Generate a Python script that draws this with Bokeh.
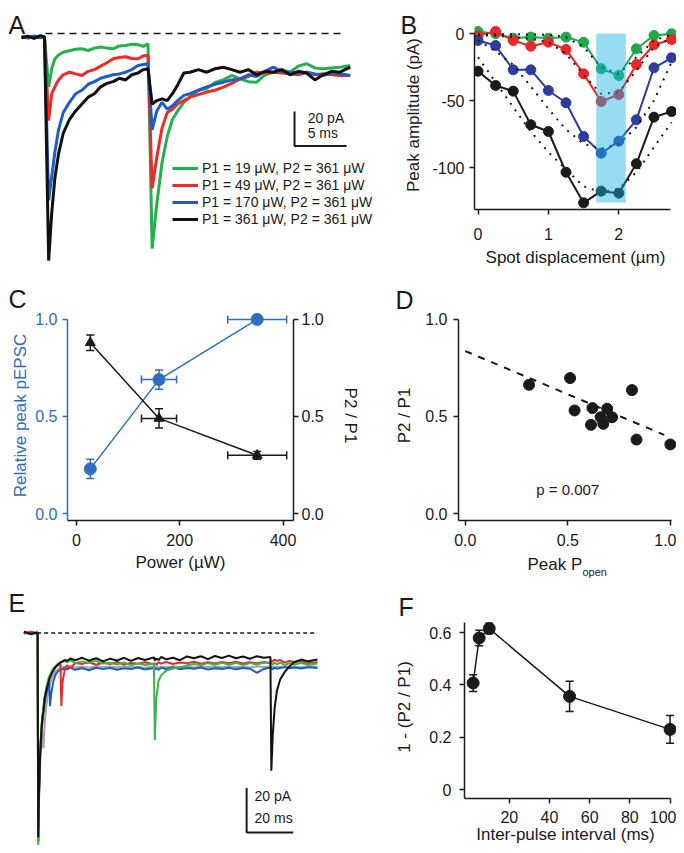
from bokeh.plotting import figure
from bokeh.models import (Range1d, LinearAxis, FixedTicker, Label, Legend, LegendItem,
                          Whisker, TeeHead, ColumnDataSource, CustomJSTickFormatter)
from bokeh.embed import file_html
from bokeh.resources import INLINE

FONT = "Liberation Sans"
INK = "#1a1a1a"

# ---------------- Panel A data (time in ms, current in pA) ----------------
tA = [-2.2, -1.6, -1.0, -0.4, 0.0, 0.4, 0.7, 1.0, 1.35, 1.8, 2.4, 3.0, 3.6, 4.2, 4.8, 5.4,
      6.0, 6.6, 7.2, 7.8, 8.4, 9.0, 9.5, 9.95, 10.35, 10.8, 11.3, 11.8, 12.3, 12.8, 13.4,
      14.0, 14.8, 15.6, 16.4, 17.2, 18.0, 18.8, 19.6, 20.4, 21.2, 22.0, 22.8, 23.6, 24.4,
      25.2, 26.0, 26.8, 27.6, 28.4, 29.4]
a_black = [-2.5, -1.5, -2.8, -1.2, -2.0, -132, -104, -84, -70, -58, -50, -45, -41, -37, -35,
           -31, -29, -28, -26, -27, -24, -23, -21, -20.5, -41, -39, -38, -39, -35, -30, -23,
           -22.5, -21, -22.5, -20.5, -19.6, -21, -22.5, -21, -24, -22, -22.5, -21, -24, -22,
           -23, -27, -24, -22, -22.5, -19.6]
a_blue = [-2.0, -2.6, -1.5, -2.2, -2.0, -97, -83, -69, -56, -46, -40, -35, -33, -29.5, -28,
          -26, -25, -24, -23.5, -22.5, -21, -18.6, -18, -17.6, -56, -45, -40, -44, -42, -39,
          -36, -35, -33, -31, -29.5, -28.3, -27, -26.4, -24, -25, -22, -19.6, -22, -22.5,
          -23, -22.5, -23.5, -24.4, -23, -23.4, -24.4]
a_red = [-1.8, -2.4, -1.6, -2.5, -2.0, -50.6, -35, -31, -27, -24, -22.5, -23.5, -24.4, -22,
         -21, -19, -17, -14.7, -14, -13.5, -14.5, -14.7, -13, -12.8, -90, -72, -55, -46, -44,
         -41, -39, -37, -35.5, -34, -33, -31.2, -29, -26.4, -25, -22.5, -23, -22.5, -23,
         -23.4, -24, -22.5, -24, -23.4, -24, -24.4, -24.4]
a_green = [-2.2, -1.8, -2.6, -1.5, -2.0, -31, -20.5, -14.7, -12.5, -10.9, -10, -9.2, -8.9,
           -9.9, -8.5, -7.9, -8.5, -8.9, -7.2, -7, -6.2, -6.5, -7.5, -6, -125, -99, -75, -60,
           -50, -45, -40, -37, -33, -32, -28.5, -27, -24.4, -26.4, -28, -28.3, -24, -22.5,
           -21, -22.5, -19, -17.6, -20, -20.5, -20, -19.6, -18.6]
a_labels = ["P1 = 19 \u03bcW, P2 = 361 \u03bcW", "P1 = 49 \u03bcW, P2 = 361 \u03bcW",
            "P1 = 170 \u03bcW, P2 = 361 \u03bcW", "P1 = 361 \u03bcW, P2 = 361 \u03bcW"]

# ---------------- Panel B data ----------------
bx = [0, 0.25, 0.5, 0.75, 1.0, 1.25, 1.5, 1.75, 2.0, 2.25, 2.5, 2.75]
b_green = [1.5, -0.2, -3.5, -2.7, -3.5, -2.7, -6.5, -26.3, -31.3, -11.4, -1.5, -0.2]
b_red = [-1.5, 1.5, -5.2, -9.5, -6.5, -11.9, -30.1, -50.7, -45.5, -23.1, -8.4, -4.5]
b_blue = [-5.2, -9.0, -27.1, -27.1, -42.5, -51.7, -76.8, -89.3, -80.3, -64.4, -25.6, -18.1]
b_black = [-28.1, -38.8, -43.0, -68.1, -73.1, -103.5, -126.3, -117.6, -119.1, -97.2, -62.4, -58.2]
fit_green = [-0.5, -0.5, -0.6, -0.7, -1.0, -2.7, -10.2, -25.1, -30.1, -17.7, -5.2, -0.7]
fit_red = [-1.5, -1.6, -2.7, -4.0, -6.5, -15.2, -30.8, -45.0, -43.8, -27.6, -10.2, -3.2]
fit_blue = [-5.2, -13.2, -23.4, -39.5, -56.2, -71.6, -82.3, -86.0, -82.3, -69.9, -50.0, -21.4]
fit_black = [-17.7, -36.3, -55.0, -73.1, -88.5, -101.5, -114.0, -118.4, -115.9, -103.5, -84.8, -66.2]
band_x = [1.68, 2.10]
band_y = [-126, 0]

# ---------------- Panel C data ----------------
power = [27, 160, 350]
power_err = [0, 34, 57]
rel_peak = [0.23, 0.69, 1.0]
rel_peak_err = [0.05, 0.05, 0.0]
ppr = [0.88, 0.49, 0.30]
ppr_err = [0.04, 0.05, 0.02]

# ---------------- Panel D data ----------------
popen = [0.311, 0.511, 0.533, 0.620, 0.692, 0.660, 0.716, 0.613, 0.673, 0.813, 0.835, 1.0]
ppr_d = [0.663, 0.698, 0.531, 0.543, 0.540, 0.496, 0.496, 0.457, 0.462, 0.636, 0.381, 0.356]
fit_x = [0.0, 0.97]
fit_y = [0.837, 0.405]

# ---------------- Panel E data (time in ms, current in pA) ----------------
tE = [-6, -3, -0.1, 0.15, 0.5, 1.0, 1.6, 2.0, 2.4, 3.0, 3.6, 4.4, 4.9, 5.2, 5.8, 6.6, 7.5,
      8.5, 9.7, 10.1, 10.6, 11.5, 12.5, 14, 16, 19, 22, 25, 28, 31, 34, 37, 40, 43, 46, 49.8,
      50.2, 50.8, 51.8, 53, 55, 58, 61, 64, 67, 70, 73, 76, 79, 82, 85, 88, 91, 94, 97, 99.8,
      100.2, 100.8, 101.6, 102.6, 104, 106, 108, 110, 113, 116, 120]
e_gray = [0.0, 0.4, -0.3, -94, -75, -58, -48, -45, -52, -40,
          -33, -27, -24, -23, -21, -19, -17.5, -16.5, -15.5, -15.3,
          -15.6, -15.1, -15.5, -14.9, -15.6, -15.2, -15.7, -15.0, -15.4, -15.1,
          -15.6, -15.0, -15.5, -15.2, -15.7, -15.1, -15.4, -15.0, -15.6, -15.2,
          -15.5, -15.0, -15.4, -15.1, -15.6, -15.0, -15.3, -15.1, -15.5, -15.0,
          -15.4, -15.1, -15.6, -15.0, -15.3, -15.1, -15.4, -15.0, -15.5, -15.1,
          -15.3, -15.0, -15.4, -15.1, -15.5, -15.0, -15.2]
e_blue = [0.3, -0.3, 0.1, -94, -73, -55, -44, -40, -36, -31,
          -27.5, -24, -22.5, -33, -27, -22, -19, -17.5, -16.5, -16.2,
          -16.5, -15.8, -16.4, -15.6, -16.6, -15.9, -16.8, -15.7, -16.3, -15.8,
          -16.6, -15.9, -16.2, -15.6, -16.5, -15.8, -16.3, -15.9, -16.6, -15.7,
          -16.2, -15.5, -16.4, -15.8, -16.1, -15.6, -16.5, -15.9, -16.2, -15.7,
          -16.4, -15.8, -16.1, -18.0, -16.2, -15.6, -15.9, -16.3, -15.7, -16.1,
          -15.8, -15.4, -15.9, -15.6, -16.0, -15.5, -15.8]
e_red = [-0.4, 0.6, -0.2, -94, -71, -53, -42, -37.5, -34, -28.5,
         -25.5, -22, -20.5, -19.5, -18, -16.5, -15.5, -14.5, -13.8, -33,
         -22, -17, -14.5, -16, -13.5, -14, -13.2, -14.3, -13.4, -14,
         -13.1, -14.2, -13.5, -13.9, -13.2, -14.1, -13.6, -14.3, -13.2, -13.8,
         -13.1, -14, -13.3, -13.7, -13.0, -13.9, -13.2, -13.8, -13.1, -13.6,
         -13.0, -13.8, -13.2, -13.7, -13.1, -13.5, -12.4, -12.8, -12.0, -12.6,
         -12.2, -13.4, -12.6, -13.1, -12.8, -13.5, -13.2]
e_green = [0.2, -0.6, 0.0, -97, -70, -52, -41, -37, -33, -28,
           -25, -21, -19.5, -19, -17.5, -16, -15, -14, -13.5, -13.2,
           -13, -12.6, -13.2, -12.4, -13.6, -12.8, -13.5, -12.6, -13.8, -13.4,
           -14.2, -13.3, -14.6, -13.7, -14.4, -13.9, -48.2, -30, -21.5, -19,
           -17, -16, -15.5, -14.6, -14, -14.5, -13.6, -14.3, -13.4, -14.2,
           -13.5, -14.4, -13.6, -14.2, -13.3, -13.8, -13.5, -14.2, -13.3, -14.1,
           -13.4, -14.5, -13.6, -14.2, -13.5, -14.3, -13.8]
e_black = [0.5, -0.5, 0.3, -92, -72, -54, -43, -38, -35, -29,
           -26, -23, -21, -20, -18.5, -17, -15.5, -14.5, -13.2, -13,
           -12.8, -12.2, -12.6, -11.5, -12.3, -11.2, -12.5, -11.4, -12.8, -11.6,
           -12.4, -11.2, -12.6, -11.3, -12.2, -11.0, -12.4, -11.5, -12.2, -10.8,
           -11.9, -11.2, -12.3, -10.6, -11.4, -10.5, -11.8, -10.4, -11.3, -10.2,
           -11.4, -10.6, -11.6, -10.5, -11.2, -10.8, -62, -46, -34, -26,
           -21, -17.5, -15, -13.2, -12, -12.8, -12]

# ---------------- Panel F data ----------------
ipi = [2, 5, 10, 50, 100]
depression = [0.407, 0.579, 0.615, 0.356, 0.230]
depression_err = [0.032, 0.030, 0.020, 0.058, 0.053]

panel_letters = ["A", "B", "C", "D", "E", "F"]


# ---------------- helpers ----------------
def base_fig(w, h, xr, yr, bl=0, br=0, bt=0, bb=0, axes=True, area="1 / 1"):
    kw = dict(width=w, height=h, x_range=Range1d(*xr), y_range=Range1d(*yr),
              output_backend="svg", toolbar_location=None,
              min_border_left=bl, min_border_right=br, min_border_top=bt, min_border_bottom=bb,
              styles={"grid-area": area})
    if not axes:
        kw.update(x_axis_type=None, y_axis_type=None)
    p = figure(**kw)
    p.grid.visible = False
    p.outline_line_color = None
    p.background_fill_color = None
    p.border_fill_color = None
    return p


def style_axis(ax, color=INK, ticks=None, standoff=5, label_standoff=8, fmt=None, bounds=None, label=None):
    ax.axis_line_color = color
    ax.axis_line_width = 1.5
    ax.major_tick_line_color = color
    ax.major_tick_line_width = 1.5
    ax.major_tick_out = 5
    ax.major_tick_in = 0
    ax.minor_tick_line_color = None
    ax.major_label_text_color = color
    ax.major_label_text_font = FONT
    ax.major_label_text_font_size = "16px"
    ax.axis_label_text_color = color
    ax.axis_label_text_font = FONT
    ax.axis_label_text_font_size = "17px"
    ax.axis_label_text_font_style = "normal"
    ax.major_label_standoff = standoff
    ax.axis_label_standoff = label_standoff
    if ticks is not None:
        ax.ticker = FixedTicker(ticks=ticks)
    if fmt:
        ax.formatter = CustomJSTickFormatter(code=fmt)
    if bounds:
        ax.bounds = bounds
    if label:
        ax.axis_label = label


def text(p, x, y, t, size="14px", align="left", baseline="middle"):
    p.add_layout(Label(x=x, y=y, text=t, text_font=FONT, text_font_size=size,
                       text_baseline=baseline, text_align=align, text_color=INK))


def whiskers(p, base, lo, hi, color, dim="height", head=8):
    src = ColumnDataSource(dict(base=base, lo=lo, hi=hi))
    w = Whisker(source=src, base="base", lower="lo", upper="hi", dimension=dim,
                line_color=color, line_width=1.5,
                lower_head=TeeHead(size=head, line_color=color, line_width=1.5),
                upper_head=TeeHead(size=head, line_color=color, line_width=1.5))
    p.add_layout(w)


# ---------------- page-wide text layer (panel letters, composite axis titles) ----------------
bg = figure(width=668, height=837, x_range=Range1d(8, 676), y_range=Range1d(845, 8),
            x_axis_type=None, y_axis_type=None, output_backend="svg", toolbar_location=None,
            min_border=0, styles={"grid-area": "1 / 1 / 4 / 3"})
bg.grid.visible = False
bg.outline_line_color = None
for (lx, ly), t in zip([(8, 24), (400, 24), (8, 298), (395, 299), (8, 602), (398, 606)], panel_letters):
    text(bg, lx, ly, t, size="25px")
text(bg, 527, 564, "Peak P", size="17px")
text(bg, 582, 571, "open", size="11px")
text(bg, 565, 834, "Inter-pulse interval (ms)", size="17px", align="center")

# ---------------- Panel A ----------------
pA = base_fig(384, 277, (-3.46, 33.46), (-146.5, 14.53), axes=False, area="1 / 1")
colorsA = ["#22b14c", "#ec2a26", "#1f5cc6", "#111111"]
rA = []
for vals, c in zip([a_green, a_red, a_blue, a_black], colorsA):
    rA.append(pA.line(tA, vals, line_color=c, line_width=3))
pA.line([0.1, 28.7], [0, 0], line_color=INK, line_width=1.5, line_dash="7 5")
sbx, sby = 24.04, -45.35
pA.line([sbx, sbx, sbx + 5], [sby, sby - 20, sby - 20], line_color=INK, line_width=2)
text(pA, 25.3, -49.1, "20 pA")
text(pA, 25.3, -57.8, "5 ms")
legA = Legend(items=[LegendItem(label=l, renderers=[r]) for l, r in zip(a_labels, rA)],
              location=(164, 58), padding=0, margin=0, spacing=1,
              glyph_width=26, glyph_height=16, label_height=16, label_standoff=4,
              label_text_font=FONT, label_text_font_size="14px", label_text_color=INK,
              border_line_color=None, background_fill_alpha=0)
pA.add_layout(legA)

# ---------------- Panel B ----------------
pB = base_fig(284, 277, (-0.05, 2.82), (-131.3, 9.7), bl=82, br=0, bt=12, bb=76, area="1 / 2")
style_axis(pB.xaxis[0], ticks=[0, 1, 2], standoff=13, label_standoff=5,
           bounds=(-0.05, 2.74), label="Spot displacement (\u00b5m)")
style_axis(pB.yaxis[0], ticks=[-100, -50, 0], standoff=5, label_standoff=6,
           fmt="return tick.toFixed(0);", bounds=(-131.3, 0), label="Peak amplitude (pA)")
colorsB = ["#1daa4a", "#e8262b", "#2e3c9e", "#1a1a1a"]
for vals, c in zip([b_green, b_red, b_blue, b_black], colorsB):
    pB.line(bx, vals, line_color=c, line_width=2)
    pB.scatter(bx, vals, size=10, fill_color=c, line_color=c)
for f in [fit_green, fit_red, fit_blue, fit_black]:
    pB.line(bx, f, line_color=INK, line_width=2, line_dash="2 6")
pB.quad(left=[band_x[0]], right=[band_x[1]], bottom=[band_y[0]], top=[band_y[1]],
        fill_color="#16b1e9", fill_alpha=0.45, line_color=None)

# ---------------- Panel C ----------------
CBLUE = "#2e6ebe"
pC = base_fig(384, 295, (-17.1, 420.2), (-0.036, 1.046), bl=55, br=99, bt=25, bb=60, area="2 / 1")
style_axis(pC.xaxis[0], ticks=[0, 200, 400], standoff=8, label_standoff=4,
           bounds=(-17.1, 420.2), label="Power (\u00b5W)")
style_axis(pC.yaxis[0], color=CBLUE, ticks=[0, 0.5, 1.0], standoff=5, label_standoff=2,
           fmt="return tick.toFixed(1);", bounds=(-0.036, 1.0), label="Relative peak pEPSC")
rax = LinearAxis()
pC.add_layout(rax, "right")
style_axis(rax, ticks=[0, 0.5, 1.0], standoff=3, label_standoff=14,
           fmt="return tick.toFixed(1);", bounds=(-0.036, 1.0), label="P2 / P1")
xe = [i for i, e in enumerate(power_err) if e > 0]
whiskers(pC, [rel_peak[i] for i in xe], [power[i] - power_err[i] for i in xe],
         [power[i] + power_err[i] for i in xe], CBLUE, dim="width")
whiskers(pC, [ppr[i] for i in xe], [power[i] - power_err[i] for i in xe],
         [power[i] + power_err[i] for i in xe], INK, dim="width")
ye = [i for i, e in enumerate(rel_peak_err) if e > 0]
whiskers(pC, [power[i] for i in ye], [rel_peak[i] - rel_peak_err[i] for i in ye],
         [rel_peak[i] + rel_peak_err[i] for i in ye], CBLUE)
whiskers(pC, power, [a - b for a, b in zip(ppr, ppr_err)],
         [a + b for a, b in zip(ppr, ppr_err)], INK)
pC.line(power, rel_peak, line_color=CBLUE, line_width=1.5)
pC.scatter(power, rel_peak, size=12, fill_color=CBLUE, line_color=CBLUE)
pC.line(power, ppr, line_color=INK, line_width=1.5)
pC.scatter(power, ppr, marker="triangle", size=10, fill_color=INK, line_color=INK)

# ---------------- Panel D ----------------
pD = base_fig(284, 295, (-0.033, 1.03), (-0.036, 1.046), bl=64, br=0, bt=25, bb=60, area="2 / 2")
style_axis(pD.xaxis[0], ticks=[0, 0.5, 1.0], standoff=8, label_standoff=4,
           fmt="return tick.toFixed(1);", bounds=(-0.033, 1.005))
style_axis(pD.yaxis[0], ticks=[0, 0.5, 1.0], standoff=6, label_standoff=8,
           fmt="return tick.toFixed(1);", bounds=(-0.036, 1.0), label="P2 / P1")
pD.line(fit_x, fit_y, line_color=INK, line_width=2, line_dash="7 7")
pD.scatter(popen, ppr_d, size=11, fill_color=INK, line_color=INK)
text(pD, 0.5, 0.124, "p = 0.007", size="15px", align="center")

# ---------------- Panel E ----------------
pE = base_fig(384, 265, (-12.6, 152.2), (-95.7, 23.6), axes=False, area="3 / 1")
for vals, c in zip([e_gray, e_blue, e_red, e_green, e_black],
                   ["#a3a3a3", "#1f5cc6", "#ec2a26", "#3cb44a", "#111111"]):
    pE.line(tE, vals, line_color=c, line_width=2)
pE.line([-0.3, 119.2], [0, 0], line_color=INK, line_width=1.5, line_dash="4 3")
ex, ey = 89.6, -69.8
pE.line([ex, ex, ex + 20], [ey, ey - 20, ey - 20], line_color=INK, line_width=2)
text(pE, 93, -73.3, "20 pA")
text(pE, 93, -83.1, "20 ms")

# ---------------- Panel F ----------------
pF = base_fig(284, 265, (-2.3, 103.2), (-0.034, 0.665), bl=65, br=0, bt=35, bb=47, area="3 / 2")
style_axis(pF.xaxis[0], ticks=[20, 40, 60, 80, 100], standoff=7, bounds=(-2.3, 100))
style_axis(pF.yaxis[0], ticks=[0, 0.2, 0.4, 0.6], standoff=8, label_standoff=12,
           fmt="return tick == 0 ? '0' : tick.toFixed(1);", bounds=(-0.034, 0.64),
           label="1 - (P2 / P1)")
whiskers(pF, ipi, [a - b for a, b in zip(depression, depression_err)],
         [a + b for a, b in zip(depression, depression_err)], INK)
pF.line(ipi, depression, line_color=INK, line_width=1.5)
pF.scatter(ipi, depression, size=12, fill_color=INK, line_color=INK)

css = ("<style>html,body{height:auto !important;}"
       "body{display:grid;grid-template-columns:384px 284px;"
       "grid-template-rows:277px 295px 265px;margin:8px !important;}"
       "body>div{display:contents;}</style>")
html = file_html([bg, pA, pB, pC, pD, pE, pF], INLINE)
html = html.replace("</head>", css + "</head>", 1)
open("out.html", "w").write(html)
